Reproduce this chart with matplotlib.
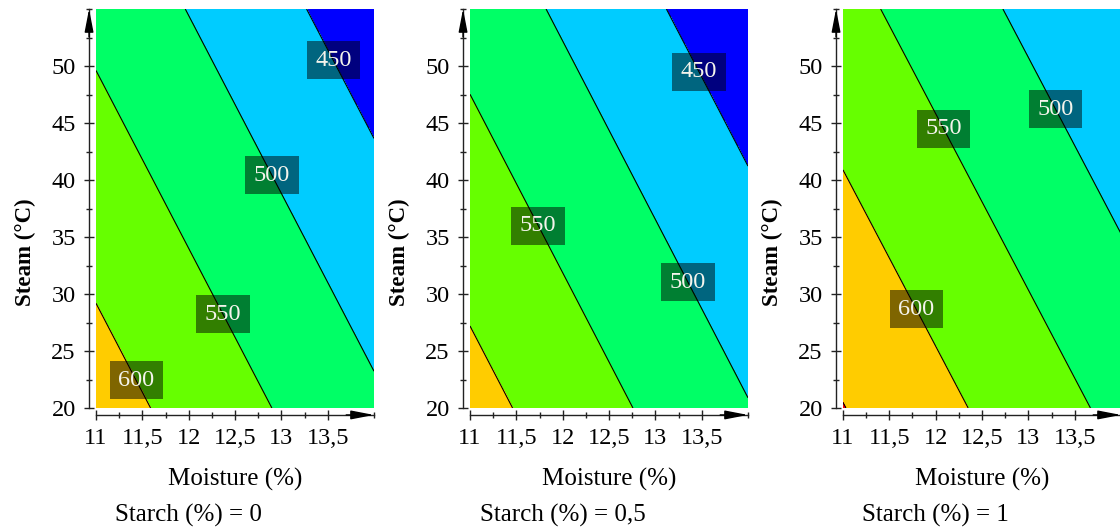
import numpy as np
import matplotlib
matplotlib.use("Agg")
import matplotlib.pyplot as plt
from matplotlib.transforms import ScaledTranslation, blended_transform_factory
from matplotlib.ticker import MultipleLocator, FuncFormatter

plt.rcParams['font.family'] = ['Liberation Serif', 'DejaVu Serif']

# ---- data ----
moisture_range = [11.0, 14.0]          # x grid (Moisture, %)
steam_range = [20.0, 55.0]             # y grid (Steam, °C)
starch_labels = ['0', '0,5', '1']
# response values at the grid corners: rows = steam (20, 55), cols = moisture (11, 14)
z_starch_0 = [[622.5, 507.9], [536.8, 422.2]]
z_starch_05 = [[617.7, 502.2], [531.6, 416.1]]
z_starch_1 = [[651.2, 537.5], [565.4, 451.7]]
fill_levels = [400, 450, 500, 550, 600, 650, 700]
line_levels = [450, 500, 550, 600, 650]
fill_colors = ['#0000FF', '#00CCFF', '#00FF66', '#66FF00', '#FFCC00', '#FF0000']
x_major_ticks = [11, 11.5, 12, 12.5, 13, 13.5]
y_major_ticks = [20, 25, 30, 35, 40, 45, 50]

# label anchor positions (layout only)
label_positions = [
    [(13.58, 50.6), (12.92, 40.5), (12.39, 28.3), (11.45, 22.5)],
    [(13.49, 49.6), (13.37, 31.1), (11.76, 36.1)],
    [(13.32, 46.3), (12.11, 44.6), (11.82, 28.8)],
]

panels = [z_starch_0, z_starch_05, z_starch_1]

W, H = 1120, 532
fig = plt.figure(figsize=(W / 100, H / 100), dpi=100)
lefts = [96, 470, 843]
ax_w, ax_top, ax_bot = 278, 9, 408

def fmt(v, pos):
    return ('%g' % v).replace('.', ',')

X, Y = np.meshgrid(moisture_range, steam_range)
for i, Z in enumerate(panels):
    ax = fig.add_axes([lefts[i] / W, (H - ax_bot) / H, ax_w / W, (ax_bot - ax_top) / H])
    Z = np.array(Z)
    ax.contourf(X, Y, Z, levels=fill_levels, colors=fill_colors)
    cs = ax.contour(X, Y, Z, levels=line_levels, colors='black', linewidths=0.8)
    ax.set_xlim(moisture_range)
    ax.set_ylim(steam_range)
    texts = ax.clabel(cs, inline=False, fontsize=17.5, fmt='%d', colors='#F4F4EC',
                      manual=label_positions[i])
    for t in texts:
        t.set_rotation(0)
        t.set_bbox(dict(boxstyle='square,pad=0.35', facecolor='black', alpha=0.5,
                        edgecolor='none'))

    for s in ['top', 'right']:
        ax.spines[s].set_visible(False)
    ax.spines['left'].set_position(('outward', 5))
    ax.spines['bottom'].set_position(('outward', 5))
    ax.spines['left'].set_bounds(steam_range[0], steam_range[1])
    ax.spines['bottom'].set_bounds(moisture_range[0], moisture_range[1])
    for s in ['left', 'bottom']:
        ax.spines[s].set_linewidth(1.0)
        ax.spines[s].set_color('#222222')

    ax.set_xticks(x_major_ticks)
    ax.set_yticks(y_major_ticks)
    ax.xaxis.set_minor_locator(MultipleLocator(0.25))
    ax.yaxis.set_minor_locator(MultipleLocator(2.5))
    ax.xaxis.set_major_formatter(FuncFormatter(fmt))
    ax.yaxis.set_major_formatter(FuncFormatter(fmt))
    ax.tick_params(which='major', direction='inout', length=7, width=1, color='#222222',
                   labelsize=17.5)
    ax.tick_params(axis='x', which='major', pad=6)
    ax.tick_params(axis='y', which='major', pad=6)
    ax.tick_params(which='minor', direction='inout', length=4, width=1, color='#222222')

    off = 5 / 72
    tl = ax.transAxes + ScaledTranslation(-off, 0, fig.dpi_scale_trans)
    tb = ax.transAxes + ScaledTranslation(0, -off, fig.dpi_scale_trans)
    ap = dict(arrowstyle='-|>,head_length=1.4,head_width=0.27', color='black', lw=1,
              shrinkA=0, shrinkB=0, mutation_scale=10)
    ax.annotate('', xy=(0, 1.0), xytext=(0, 0.93), xycoords=tl, textcoords=tl,
                arrowprops=ap, annotation_clip=False)
    ax.annotate('', xy=(1.0, 0), xytext=(0.9, 0), xycoords=tb, textcoords=tb,
                arrowprops=ap, annotation_clip=False)

    ax.text(0.5, -0.178, 'Moisture (%)', transform=ax.transAxes, ha='center',
            va='center', fontsize=18)
    bt = blended_transform_factory(ax.transData, ax.transAxes)
    ax.text(12.0, -0.27, 'Starch (%) = ' + starch_labels[i], transform=bt,
            ha='center', va='center', fontsize=18)
    ax.text(-0.255, 0.391, 'Steam (°C)', transform=ax.transAxes, ha='center',
            va='center', rotation=90, fontsize=16.5, fontweight='bold')

fig.savefig('out.png', dpi=100)
